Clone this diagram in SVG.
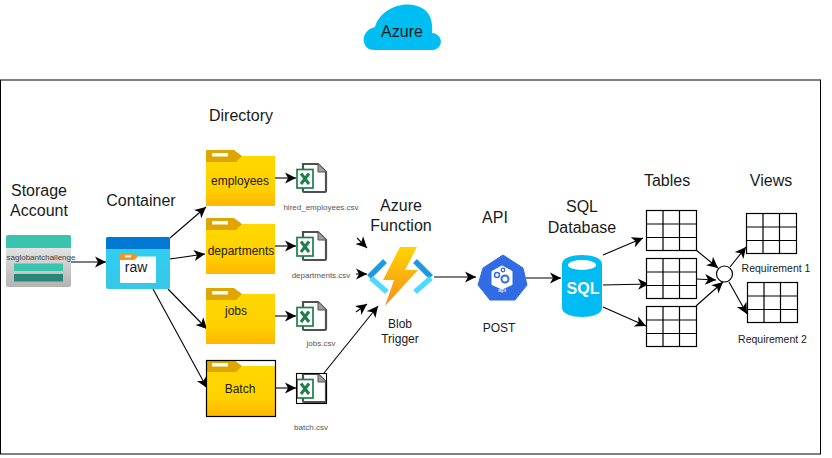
<svg xmlns="http://www.w3.org/2000/svg" width="832" height="458" viewBox="0 0 832 458">
<style>
text{font-family:"Liberation Sans",Arial,sans-serif;fill:#1a1a1a;text-anchor:middle}
.t{font-size:16px}.f{font-size:12px}.s{font-size:10.500px}.c{font-size:8px;fill:#555}
.l{fill:none;stroke:#000;stroke-width:1.100;marker-end:url(#a)}
.g{fill:#fff;stroke:#000;stroke-width:1.200}
</style>
<defs>
<marker id="a" markerUnits="userSpaceOnUse" markerWidth="14" markerHeight="14" refX="11" refY="6" orient="auto"><path d="M0 0.500L11 6L0 11.500L3 6Z" fill="#000"/></marker>
<linearGradient id="fy" x1="0" y1="0" x2="0" y2="1"><stop offset="0" stop-color="#ffd800"/><stop offset="0.65" stop-color="#ffd000"/><stop offset="1" stop-color="#ffb700"/></linearGradient>
<linearGradient id="st" x1="0" y1="0" x2="0" y2="1"><stop offset="0" stop-color="#f2f2f2"/><stop offset="1" stop-color="#b3b3b3"/></linearGradient>
<linearGradient id="ct" x1="0" y1="0" x2="0" y2="1"><stop offset="0" stop-color="#2fd0f5"/><stop offset="1" stop-color="#37c6e8"/></linearGradient>
<linearGradient id="bolt" x1="0" y1="0" x2="0" y2="1"><stop offset="0" stop-color="#ffd400"/><stop offset="1" stop-color="#f78d1e"/></linearGradient>
<g id="folder"><path d="M0 1Q0 0 1 0H28L36 6H68Q69 6 69 7V55Q69 56 68 56H1Q0 56 0 55Z" fill="#dfa500"/><rect x="6" y="3" width="16" height="3.500" fill="#fff"/><path d="M0 12H30L36 6H68Q69 6 69 7V55Q69 56 68 56H1Q0 56 0 55Z" fill="url(#fy)"/></g>
<g id="xl"><path d="M8 1H22L30 9V28Q30 29 29 29H8Q7 29 7 28V1Z" fill="#fff" stroke="#505050" stroke-width="2.200"/><path d="M22 1V9H30" fill="#a0a0a0" stroke="#505050" stroke-width="1"/><rect x="1" y="6.500" width="16" height="18.500" fill="#fff" stroke="#1d7f4c" stroke-width="1.700"/><path d="M5 10.500L13 21M13 10.500L5 21" stroke="#1d7f4c" stroke-width="3" fill="none"/></g>
<g id="tbl"><rect width="50" height="40" class="g"/><path d="M16.500 0V40M33 0V40M0 13.500H50M0 27H50" class="g"/></g>
</defs>
<rect width="832" height="458" fill="#fff"/>
<g id="azure"><path d="M374 50C361 50 359 31 375 27C381 7 408 -2 425 10C431 15 433 24 432 33C444 34 444 50 431 50Z" fill="#00bef2"/><text x="402" y="37" style="font-size:16px">Azure</text></g>
<rect id="frame" x="0.500" y="80" width="820" height="374" fill="none" stroke="#000" stroke-width="1"/>
<g id="connectors">
<path class="l" d="M71 262H106"/>
<path class="l" d="M170 238L206 207"/>
<path class="l" d="M170 259L205 254"/>
<path class="l" d="M168 289L207 329"/>
<path class="l" d="M153 289L207 388"/>
<path class="l" d="M275 178H296"/>
<path class="l" d="M275 246H296"/>
<path class="l" d="M275 316H296"/>
<path class="l" d="M275 388H296"/>
<path class="l" d="M357 238L367 248"/>
<path class="l" d="M356 274L367 274"/>
<path class="l" d="M356 312L367 304"/>
<path class="l" d="M324 373L378 306"/>
<path class="l" d="M434 277H476"/>
<path class="l" d="M526 278H561"/>
<path class="l" d="M603 255L643 238"/>
<path class="l" d="M603 285L649 284"/>
<path class="l" d="M603 307L646 326"/>
<path class="l" d="M696 250L718 268"/>
<path class="l" d="M696 279L716 280"/>
<path class="l" d="M696 306L723 282"/>
<path class="l" d="M730 267L746 247"/>
<path class="l" d="M729 282L747 314"/>
</g>
<g id="storage-label"><text x="39" y="196" class="t">Storage</text><text x="39" y="216" class="t">Account</text></g>
<g id="storage"><rect x="6" y="235" width="65" height="52" rx="2" fill="url(#st)"/><path d="M6 248V237Q6 235 8 235H69Q71 235 71 237V248Z" fill="#3ac3ad"/><rect x="14" y="263.500" width="49" height="7.500" fill="#3ac3ad"/><rect x="14" y="274" width="49" height="7.500" fill="#2a8677"/><text x="41" y="260" style="font-size:8px;fill:#444">saglobantchallenge</text></g>
<g id="container-label"><text x="141" y="206" class="t">Container</text></g>
<g id="container"><rect x="106" y="237" width="64" height="52" rx="2" fill="url(#ct)"/><path d="M106 249V239Q106 237 108 237H168Q170 237 170 239V249Z" fill="#0078d4"/><rect x="120" y="256.500" width="36" height="26.500" fill="#fff"/><path d="M120 254H134L138 257L134 260H120Z" fill="#f7941d"/><rect x="125" y="255.300" width="6" height="2" fill="#fff"/><text x="136" y="272" style="font-size:14px">raw</text></g>
<g id="directory-label"><text x="241" y="121" class="t">Directory</text></g>
<g id="employees"><use href="#folder" x="206" y="150"/><text x="240" y="185" class="f">employees</text></g>
<g id="departments"><use href="#folder" x="206" y="218"/><text x="241" y="255" class="f">departments</text></g>
<g id="jobs"><use href="#folder" x="206" y="288"/><text x="236" y="315" class="f">jobs</text></g>
<g id="batch"><use href="#folder" x="206" y="360"/><rect x="206.500" y="360.500" width="69" height="56" fill="none" stroke="#000" stroke-width="1.200"/><text x="240" y="393" class="f">Batch</text></g>
<g id="f1"><use href="#xl" x="296" y="163"/><text x="321" y="210" class="c">hired_employees.csv</text></g>
<g id="f2"><use href="#xl" x="296" y="231"/><text x="321" y="278" class="c">departments.csv</text></g>
<g id="f3"><use href="#xl" x="296" y="301"/><text x="321" y="346" class="c">jobs.csv</text></g>
<g id="f4"><use href="#xl" x="296" y="373"/><rect x="296.500" y="373.500" width="30" height="30" fill="none" stroke="#000" stroke-width="1.100"/><text x="311" y="430" class="c">batch.csv</text></g>
<g id="function"><text x="401" y="211" class="t">Azure</text><text x="401" y="231" class="t">Function</text>
<path d="M369 277L385 261" stroke="#1f9ae0" stroke-width="5.500" fill="none"/><path d="M371 278L387 292" stroke="#50d9ff" stroke-width="5.500" fill="none"/>
<path d="M415 261L431 277" stroke="#1f9ae0" stroke-width="5.500" fill="none"/><path d="M431 278L415 292" stroke="#50d9ff" stroke-width="5.500" fill="none"/>
<path d="M400 247H417L405 270H418L385 306L394 280H383Z" fill="url(#bolt)"/>
<text x="400" y="328" class="f">Blob</text><text x="400" y="343" class="f">Trigger</text></g>
<g id="api"><text x="495" y="223" class="t">API</text><path d="M503 255L523 268L527 285L515 300H490L478 285L483 268Z" fill="#326ce5" stroke="#326ce5" stroke-width="1" stroke-linejoin="round"/><path d="M502 267L511 272V284L502 288L493 284V272Z" fill="#fff" stroke="#fff" stroke-width="3" stroke-linejoin="round"/><circle cx="505" cy="279" r="3.500" fill="none" stroke="#326ce5" stroke-width="2"/><circle cx="497" cy="275" r="2.500" fill="none" stroke="#326ce5" stroke-width="1.500"/><circle cx="503" cy="270" r="1.800" fill="none" stroke="#326ce5" stroke-width="1.300"/><text x="502" y="292" style="font-size:6px;fill:#fff">api</text><text x="499" y="332" class="f">POST</text></g>
<g id="sql"><text x="582" y="212" class="t">SQL</text><text x="582" y="233" class="t">Database</text><path d="M562 264C562 252 602 252 602 264V308C602 320 562 320 562 308Z" fill="#00bcf2"/><ellipse cx="582" cy="265" rx="14" ry="5" fill="#fff"/><text x="583" y="294" style="font-size:16px;font-weight:bold;fill:#fff">SQL</text></g>
<g id="tables"><text x="667" y="186" class="t">Tables</text><use href="#tbl" x="646.500" y="210.500"/><use href="#tbl" x="646.500" y="258.500"/><use href="#tbl" x="646.500" y="306.500"/></g>
<g id="join"><circle cx="724.500" cy="274" r="8" class="g"/></g>
<g id="views"><text x="771" y="186" class="t">Views</text><use href="#tbl" x="746.500" y="213.500"/><text x="776" y="272" class="s">Requirement 1</text><use href="#tbl" x="747.500" y="282.500"/><text x="772.500" y="343" class="s">Requirement 2</text></g>
</svg>
